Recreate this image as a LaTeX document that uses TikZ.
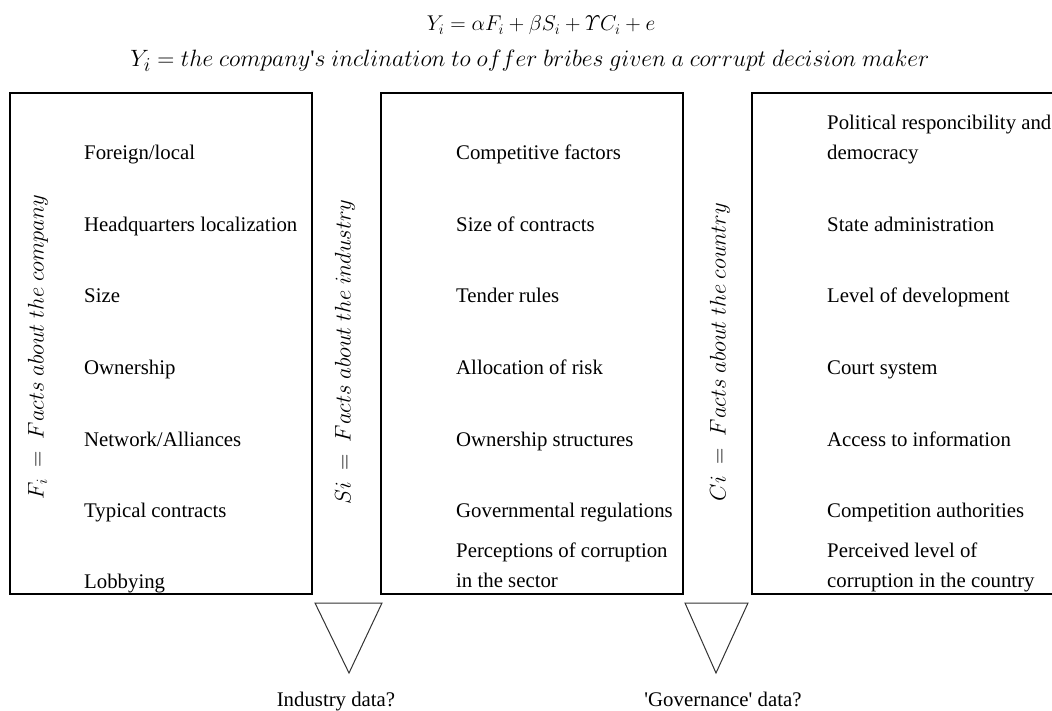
\documentclass[tikz,border=0pt]{standalone}
\usepackage{amsmath}
\usepackage[no-math]{fontspec}
\setmainfont{Liberation Serif}
\newcommand{\itemfont}{\fontsize{20.8}{30}\selectfont}
\newcommand{\mfont}{\fontsize{20.74}{24}\selectfont}
\newcommand{\mfontb}{\fontsize{24.88}{28}\selectfont}
\tikzset{
  box/.style={draw, line width=2.2pt},
  item/.style={anchor=base west, font=\itemfont, inner sep=0pt, align=left},
  side/.style={rotate=90, font=\mfont, inner sep=0pt, scale=1.09},
  tri/.style={draw=black!80, line width=1pt, line join=miter},
  lab/.style={anchor=base, font=\itemfont, inner sep=0pt},
  eq/.style={anchor=base, inner sep=0pt}
}
\begin{document}
\begin{tikzpicture}[x=1pt,y=-1pt]
\useasboundingbox (0,0) rectangle (1052,711);
% formulas
\node[eq, font=\mfont, scale=1.03] (f1) at (541,31) {$Y_i = \alpha F_i + \beta S_i + \mathnormal{\Upsilon} C_i + e$};
\node[eq, font=\mfontb, scale=0.95] (f2) at (530,67) {$Y_i = the\ company\mbox{\textquotesingle}s\ inclination\ to\ offer\ bribes\ given\ a\ corrupt\ decision\ maker$};
% boxes
\draw[box] (10,93) rectangle (312,594);
\draw[box] (381,93) rectangle (683,594);
\draw[box] (1070,93) -- (752,93) -- (752,594) -- (1070,594);
% side labels
\node[side] (s1) at (38,347) {$F_i\ =\ Facts\ about\ the\ company$};
\node[side] (s2) at (345,352) {$Si\ =\ Facts\ about\ the\ industry$};
\node[side] (s3) at (720,352) {$Ci\ =\ Facts\ about\ the\ country$};
% box 1 items
\node[item] (a1) at (84,160) {Foreign/local};
\node[item] (a2) at (84,231.5) {Headquarters localization};
\node[item] (a3) at (84,303) {Size};
\node[item] (a4) at (84,374.5) {Ownership};
\node[item] (a5) at (84,446) {Network/Alliances};
\node[item] (a6) at (84,517.5) {Typical contracts};
\node[item] (a7) at (84,588) {Lobbying};
% box 2 items
\node[item] (c1) at (456,160) {Competitive factors};
\node[item] (c2) at (456,231.5) {Size of contracts};
\node[item] (c3) at (456,303) {Tender rules};
\node[item] (c4) at (456,374.5) {Allocation of risk};
\node[item] (c5) at (456,446) {Ownership structures};
\node[item] (c6) at (456,517.5) {Governmental regulations};
\node[item] (c7) at (456,587) {Perceptions of corruption\\in the sector};
% box 3 items
\node[item] (d1) at (827,160) {Political responcibility and\\democracy};
\node[item] (d2) at (827,231.5) {State administration};
\node[item] (d3) at (827,303) {Level of development};
\node[item] (d4) at (827,374.5) {Court system};
\node[item] (d5) at (827,446) {Access to information};
\node[item] (d6) at (827,517.5) {Competition authorities};
\node[item] (d7) at (827,587) {Perceived level of\\corruption in the country};
% triangles
\draw[tri] (315,603) -- (382,603) -- (349,673) -- cycle;
\draw[tri] (685,603) -- (748,603) -- (716,673) -- cycle;
% bottom labels
\node[lab] (l1) at (336,706) {Industry data?};
\node[lab] (l2) at (723,706) {\textquotesingle Governance\textquotesingle{} data?};
\end{tikzpicture}
\end{document}
